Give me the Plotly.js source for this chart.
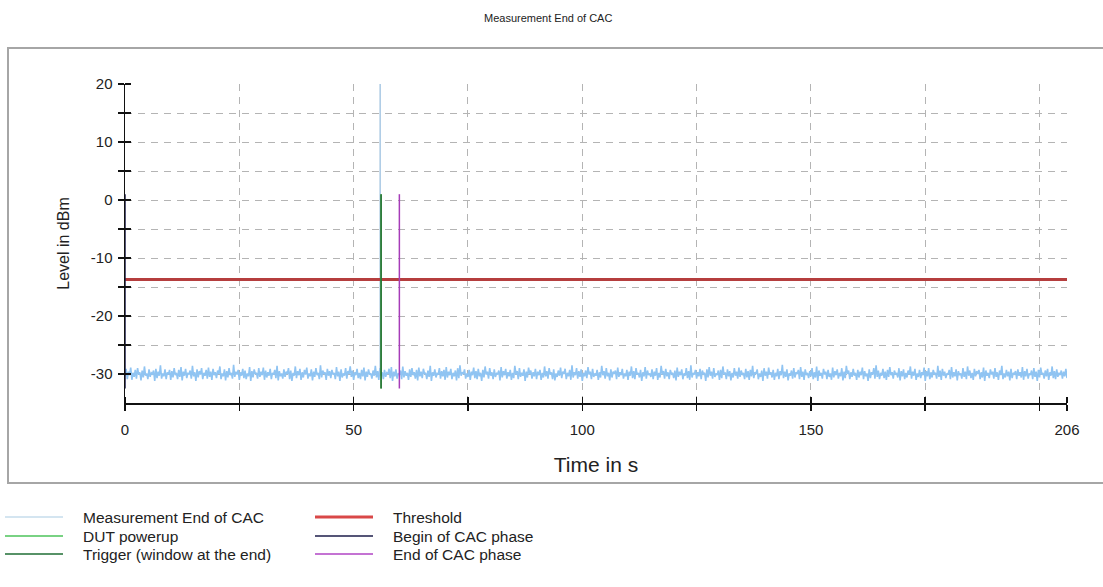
<!DOCTYPE html>
<html>
<head>
<meta charset="utf-8">
<script src="https://cdn.plot.ly/plotly-3.0.1.min.js"></script>
<style>html,body{margin:0;padding:0;background:#fff;}#chart{width:1103px;height:587px;}</style>
</head>
<body>
<div id="chart"></div>
<script>
// ---- data ----
const chartTitle = 'Measurement End of CAC';
const xTitle = 'Time in s';
const yTitle = 'Level in dBm';
const sampleStart = 0;      // s
const sampleStep = 0.25;    // s
const noiseLevels = [
-30.4,-29.1,-30.9,-29.6,-30.2,-28.9,-31.0,-29.8,-30.5,-29.3,-30.8,-29.0,-30.1,-29.7,-31.1,-29.4,-30.6,-28.7,-30.3,-29.9,
-30.9,-29.2,-30.5,-29.8,-30.0,-29.4,-31.2,-29.1,-30.7,-29.6,-30.3,-28.5,-30.8,-29.9,-30.4,-29.2,-30.9,-29.7,-30.1,-29.3,
-31.0,-29.5,-30.6,-29.0,-30.2,-29.8,-30.9,-29.3,-30.5,-28.8,-31.1,-29.6,-30.3,-29.1,-30.7,-29.9,-30.0,-29.4,-30.8,-28.6,
-30.4,-29.7,-31.2,-29.2,-30.6,-29.5,-30.1,-29.0,-30.9,-29.8,-30.3,-29.3,-30.8,-28.9,-30.5,-29.6,-31.0,-29.1,-30.2,-29.7,
-30.7,-29.4,-30.0,-28.7,-30.9,-29.9,-30.4,-29.2,-31.1,-29.5,-30.6,-29.0,-30.2,-29.8,-30.8,-28.4,-30.5,-29.6,-30.1,-29.3,
-31.0,-29.7,-30.3,-29.1,-30.7,-29.4,-30.9,-29.9,-30.4,-28.8,-31.2,-29.5,-30.6,-29.2,-30.0,-29.8,-30.8,-29.0,-30.5,-29.6,
-30.2,-28.9,-31.0,-29.4,-30.6,-29.7,-30.3,-29.1,-30.9,-29.8,-30.1,-29.3,-30.7,-28.6,-31.1,-29.5,-30.4,-29.9,-30.8,-29.2,
-30.5,-29.6,-30.0,-29.0,-30.9,-29.4,-31.2,-29.8,-30.3,-28.7,-30.7,-29.5,-30.2,-29.1,-31.0,-29.7,-30.6,-29.3,-30.1,-28.9,
-30.8,-29.9,-30.4,-29.2,-31.1,-29.6,-30.5,-29.0,-30.2,-29.8,-30.9,-28.5,-30.6,-29.4,-30.0,-29.7,-31.0,-29.1,-30.3,-29.5,
-30.7,-29.3,-30.1,-29.8,-30.9,-28.8,-30.4,-29.6,-31.2,-29.2,-30.6,-29.9,-30.3,-29.0,-30.8,-29.5,-30.0,-28.7,-30.5,-29.4,
-31.0,-29.7,-30.2,-29.1,-30.7,-29.8,-30.9,-29.3,-30.4,-28.9,-31.1,-29.6,-30.5,-29.2,-30.1,-29.9,-30.8,-29.4,-30.3,-28.6,
-30.6,-29.5,-31.0,-29.0,-30.2,-29.7,-30.9,-29.3,-30.5,-29.8,-30.0,-29.1,-30.7,-28.8,-31.2,-29.6,-30.4,-29.2,-30.8,-29.9,
-30.1,-29.4,-30.9,-28.7,-30.6,-29.5,-30.3,-29.8,-31.0,-29.2,-30.5,-29.0,-30.2,-29.7,-30.8,-29.3,-31.1,-28.9,-30.4,-29.6,
-30.7,-29.1,-30.0,-29.8,-30.9,-29.4,-30.5,-28.6,-31.2,-29.7,-30.3,-29.2,-30.6,-29.9,-30.1,-29.0,-30.8,-29.5,-30.4,-29.3,
-31.0,-28.8,-30.6,-29.6,-30.2,-29.1,-30.9,-29.8,-30.4,-29.4,-31.1,-29.0,-30.7,-28.5,-30.3,-29.7,-30.0,-29.2,-30.8,-29.9,
-30.5,-29.3,-31.0,-29.6,-30.2,-28.9,-30.7,-29.5,-30.9,-29.1,-30.4,-29.8,-31.2,-29.3,-30.6,-28.7,-30.1,-29.6,-30.8,-29.0,
-30.3,-29.7,-30.9,-29.2,-30.5,-29.9,-30.0,-29.4,-31.1,-28.8,-30.6,-29.5,-30.2,-29.1,-30.8,-29.7,-30.4,-29.3,-31.0,-29.8,
-30.7,-28.6,-30.1,-29.5,-30.9,-29.0,-30.5,-29.8,-30.3,-29.2,-31.2,-29.6,-30.6,-28.9,-30.0,-29.4,-30.8,-29.7,-30.4,-29.1,
-30.9,-29.6,-30.2,-29.3,-31.0,-29.8,-30.6,-28.7,-30.4,-29.5,-30.8,-29.0,-30.1,-29.7,-30.9,-29.2,-31.1,-29.9,-30.5,-29.4,
-30.3,-28.9,-30.7,-29.6,-30.0,-29.1,-30.9,-29.8,-30.4,-29.3,-31.0,-28.5,-30.6,-29.7,-30.2,-29.0,-30.8,-29.5,-30.5,-29.2,
-31.2,-29.8,-30.4,-29.4,-30.7,-28.8,-30.1,-29.6,-30.9,-29.1,-30.5,-29.9,-30.3,-29.3,-31.0,-29.7,-30.6,-28.6,-30.2,-29.5,
-30.8,-29.0,-30.4,-29.8,-31.1,-29.2,-30.6,-29.6,-30.0,-29.4,-30.9,-28.9,-30.5,-29.7,-30.2,-29.1,-30.8,-29.9,-30.4,-29.3,
-31.0,-29.6,-30.3,-28.7,-30.7,-29.5,-30.9,-29.0,-30.1,-29.8,-30.6,-29.3,-31.2,-29.7,-30.4,-28.8,-30.8,-29.4,-30.2,-29.9,
-30.5,-29.2,-30.9,-29.6,-30.3,-29.0,-31.0,-29.8,-30.6,-28.6,-30.1,-29.5,-30.8,-29.1,-30.4,-29.7,-30.9,-29.3,-30.0,-29.8,
-30.7,-29.4,-31.1,-28.9,-30.5,-29.6,-30.2,-29.2,-30.9,-29.9,-30.3,-29.0,-30.7,-29.5,-31.0,-28.5,-30.6,-29.8,-30.1,-29.3,
-30.8,-29.7,-30.4,-29.1,-30.9,-29.4,-30.0,-29.8,-31.2,-29.2,-30.6,-28.8,-30.3,-29.6,-30.8,-29.0,-30.5,-29.9,-30.2,-29.4,
-31.0,-29.3,-30.7,-28.7,-30.1,-29.7,-30.9,-29.2,-30.4,-29.5,-31.1,-29.8,-30.6,-29.0,-30.3,-29.6,-30.8,-28.9,-30.5,-29.4,
-30.2,-29.8,-30.9,-29.1,-30.6,-29.5,-31.0,-29.3,-30.4,-28.6,-30.7,-29.7,-30.0,-29.2,-30.9,-29.9,-30.5,-29.4,-31.2,-29.0,
-30.3,-29.6,-30.8,-28.9,-30.1,-29.7,-30.6,-29.3,-31.0,-29.8,-30.4,-29.1,-30.9,-29.5,-30.2,-28.4,-30.7,-29.6,-30.5,-29.2,
-31.1,-29.9,-30.3,-29.4,-30.8,-29.0,-30.6,-29.7,-30.0,-29.3,-30.9,-28.8,-30.5,-29.6,-31.0,-29.2,-30.2,-29.8,-30.7,-29.5,
-30.4,-29.0,-30.9,-29.7,-30.6,-28.7,-31.2,-29.4,-30.3,-29.8,-30.8,-29.1,-30.1,-29.6,-30.9,-29.3,-30.5,-29.9,-31.0,-28.9,
-30.6,-29.5,-30.2,-29.2,-30.8,-29.8,-30.4,-29.0,-31.1,-29.6,-30.7,-28.6,-30.0,-29.4,-30.9,-29.7,-30.5,-29.1,-30.3,-29.8,
-31.0,-29.3,-30.6,-29.6,-30.2,-28.9,-30.9,-29.5,-30.4,-29.9,-31.2,-29.2,-30.7,-29.7,-30.1,-29.0,-30.8,-28.5,-30.5,-29.4,
-30.9,-29.8,-30.3,-29.1,-30.7,-29.6,-31.0,-29.3,-30.5,-28.8,-30.2,-29.7,-30.8,-29.4,-30.0,-29.9,-30.6,-29.0,-31.1,-29.5,
-30.4,-29.2,-30.9,-29.8,-30.6,-29.4,-30.1,-28.7,-30.8,-29.6,-30.3,-29.1,-31.0,-29.9,-30.5,-29.3,-30.7,-29.7,-30.2,-28.9,
-31.2,-29.5,-30.4,-29.0,-30.9,-29.7,-30.6,-29.3,-30.0,-29.8,-30.8,-28.6,-30.5,-29.4,-31.0,-29.1,-30.3,-29.6,-30.7,-29.9,
-30.1,-29.3,-30.9,-28.8,-30.6,-29.7,-30.4,-29.2,-31.1,-29.5,-30.2,-29.9,-30.8,-29.0,-30.5,-29.6,-30.9,-28.7,-30.3,-29.4,
-30.7,-29.8,-31.0,-29.1,-30.4,-29.5,-30.0,-29.3,-30.9,-29.7,-30.6,-28.9,-31.2,-29.4,-30.3,-29.8,-30.7,-29.2,-30.1,-29.6,
-30.8,-29.0,-30.5,-29.7,-31.0,-29.4,-30.2,-28.6,-30.9,-29.9,-30.6,-29.3,-30.4,-29.6,-31.1,-29.1,-30.7,-29.8,-30.0,-29.5,
-30.9,-29.2,-30.3,-29.7,-30.6,-28.8,-31.0,-29.5,-30.4,-29.1,-30.8,-29.9,-30.2,-29.4,-30.9,-29.0,-30.5,-29.6,-31.2,-29.3,
-30.6,-28.9,-30.1,-29.8,-30.8,-29.4,-30.4,-29.1,-31.0,-29.7,-30.3,-28.7,-30.7,-29.5,-30.9,-29.2,-30.5,-29.8,-30.2,-29.4,
-30.8,-29.6,-30.4,-29.1,-30.7
];
const spikeTimes  = [55.8, 55.8, 55.8];
const spikeLevels = [-30.3, 20, -30.1];

const thresholdLevel = -13.7;        // dBm
const timeRange = [0, 206];
const levelRange = [-35, 20];
const markerBottom = -32.5, markerTop = 1;
const dutPowerupTime = 56;
const triggerTime = 56;
const beginCacTime = 0;
const endCacTime = 60;

const xTickVals = [0, 25, 50, 75, 100, 125, 150, 175, 200, 206];
const xTickText = ['0', '', '50', '', '100', '', '150', '', '', '206'];
const yTickVals = [-30, -25, -20, -15, -10, -5, 0, 5, 10, 15, 20];
const yTickText = ['-30', '', '-20', '', '-10', '', '0', '', '10', '', '20'];

const seriesNames = ['Measurement End of CAC', 'DUT powerup', 'Trigger (window at the end)',
                     'Threshold', 'Begin of CAC phase', 'End of CAC phase'];
const seriesColors = ['#90c4f2', '#4fc35c', '#236b30', '#b53e3e', '#1c1c4a', '#a63cb8'];
const spikeColor = '#a6c7e2';
const legendColors = ['#a9cbe2', '#4cc35a', '#1f6e35', '#d94848', '#1c1c4a', '#b044c4'];
const legendWidths = [1, 1.5, 1.5, 3, 1.5, 1.5];

// ---- build measurement series ----
const measX = noiseLevels.map((v, i) => sampleStart + i * sampleStep);

const font = 'Arial, "Liberation Sans", sans-serif';
const vline = (t, idx) => ({
  x: [t, t], y: [markerBottom, markerTop], mode: 'lines', name: seriesNames[idx],
  line: {color: seriesColors[idx], width: 1.5}, hoverinfo: 'skip'
});

const traces = [
  {x: measX, y: noiseLevels, mode: 'lines', name: seriesNames[0],
   line: {color: seriesColors[0], width: 1.6}},
  {x: spikeTimes, y: spikeLevels, mode: 'lines', name: seriesNames[0], showlegend: false,
   line: {color: spikeColor, width: 1}},
  {x: timeRange, y: [thresholdLevel, thresholdLevel], mode: 'lines', name: seriesNames[3],
   line: {color: seriesColors[3], width: 3}},
  vline(beginCacTime, 4),
  vline(endCacTime, 5),
  vline(dutPowerupTime, 1),
  vline(triggerTime, 2)
];

const W = 1103, H = 587;
const M = {l: 125, r: 36, t: 84, b: 184, autoexpand: false};
const pw = W - M.l - M.r, ph = H - M.t - M.b;
const px = v => (v - M.l) / pw;          // pixel -> paper x
const py = v => (H - M.b - v) / ph;      // pixel -> paper y

// inner half of the crossing tick marks (nudged so they are not merged with major ticks)
const nudge = (vals, range) => vals.map(v => v + (v < range[1] ? 1e-6 : -1e-6));

const gridStyle = {showgrid: true, gridcolor: '#b4b4b4', gridwidth: 1, griddash: '7px,6px'};
const tickStyle = {ticks: 'outside', ticklen: 6, tickwidth: 1.5, tickcolor: '#111',
                   showline: true, linecolor: '#111', linewidth: 1.5, zeroline: false};

// ---- manual legend (two columns, column-major order) ----
const legendOrder = [0, 1, 2, 3, 4, 5];
const legendCols = [{x0: 5, x1: 63, tx: 81}, {x0: 315, x1: 373, tx: 391}];
const legendRows = [517, 536, 554];
const legendShapes = [], legendAnnots = [];
legendOrder.forEach((idx, k) => {
  const c = legendCols[Math.floor(k / 3)], r = legendRows[k % 3];
  legendShapes.push({type: 'line', xref: 'paper', yref: 'paper', x0: px(c.x0), x1: px(c.x1),
    y0: py(r), y1: py(r), line: {color: legendColors[idx], width: legendWidths[idx]}});
  legendAnnots.push({xref: 'paper', yref: 'paper', x: px(c.tx), y: py(r), xanchor: 'left', yanchor: 'middle',
    text: seriesNames[idx], showarrow: false, font: {size: 15.5, color: '#222'}});
});

const layout = {
  width: W, height: H, margin: M,
  paper_bgcolor: '#ffffff', plot_bgcolor: '#ffffff',
  font: {family: font, size: 14, color: '#222'},
  showlegend: false,
  title: {text: chartTitle, x: 0.497, xref: 'container', y: 1 - 18 / H, yref: 'container',
          yanchor: 'middle', font: {size: 11, color: '#222'}},
  xaxis: Object.assign({
    range: timeRange, tickmode: 'array', tickvals: xTickVals, ticktext: xTickText,
    tickfont: {size: 15}, ticklabelstandoff: 6, title: {text: xTitle, font: {size: 21}, standoff: 21},
    minor: {tickmode: 'array', tickvals: nudge(xTickVals, timeRange), ticks: 'inside', ticklen: 6,
            tickwidth: 1.5, tickcolor: '#111', showgrid: false}
  }, gridStyle, tickStyle),
  yaxis: Object.assign({
    range: levelRange, tickmode: 'array', tickvals: yTickVals, ticktext: yTickText,
    tickfont: {size: 15}, ticklabelstandoff: 2, title: {text: yTitle, font: {size: 16}, standoff: 17},
    minor: {tickmode: 'array', tickvals: nudge(yTickVals, levelRange), ticks: 'inside', ticklen: 6,
            tickwidth: 1.5, tickcolor: '#111', showgrid: false}
  }, gridStyle, tickStyle),
  shapes: [{type: 'rect', xref: 'paper', yref: 'paper', x0: px(8), x1: px(1110), y0: py(483), y1: py(48),
            line: {color: '#a6a6a6', width: 2}, fillcolor: 'rgba(0,0,0,0)', layer: 'below'}].concat(legendShapes),
  annotations: legendAnnots
};

Plotly.newPlot('chart', traces, layout, {displayModeBar: false, staticPlot: true});
</script>
</body>
</html>
